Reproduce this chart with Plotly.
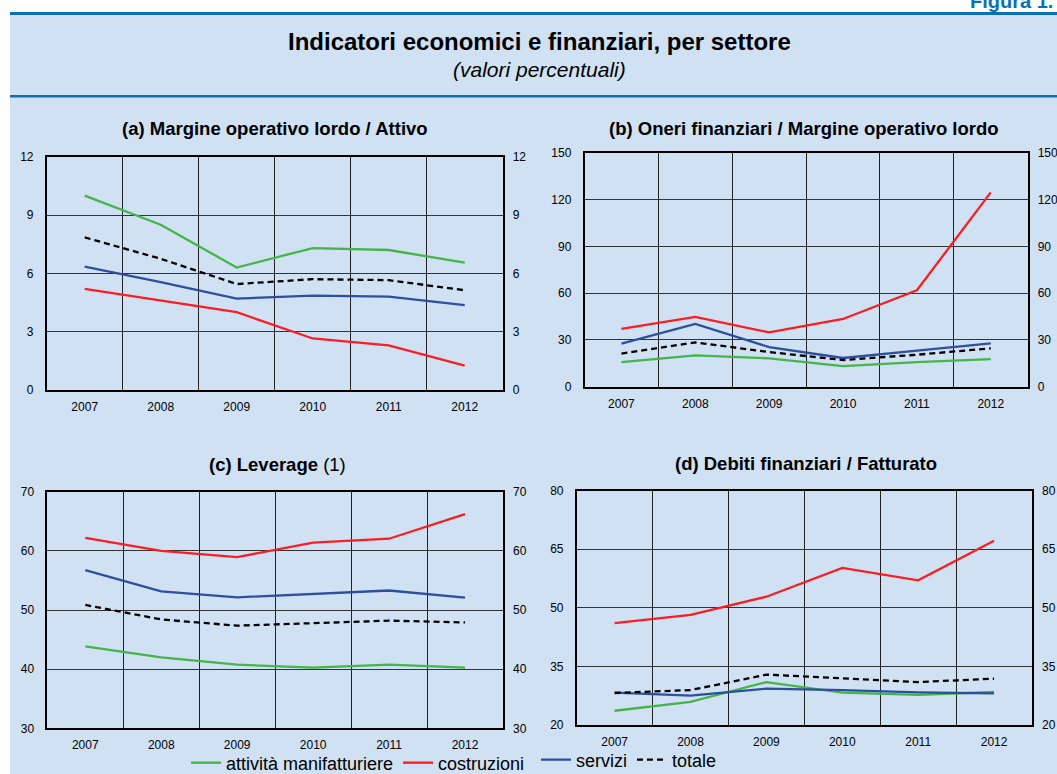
import plotly.graph_objects as go

W, H = 1057, 774

years = ["2007", "2008", "2009", "2010", "2011", "2012"]

series_names = ["attività manifatturiere", "costruzioni", "servizi", "totale"]

# (a) Margine operativo lordo / Attivo
a_manif = [10.0, 8.5, 6.3, 7.3, 7.2, 6.55]
a_costr = [5.2, 4.6, 4.0, 2.65, 2.3, 1.25]
a_serv = [6.35, 5.55, 4.7, 4.85, 4.8, 4.37]
a_tot = [7.85, 6.75, 5.45, 5.7, 5.65, 5.13]

# (b) Oneri finanziari / Margine operativo lordo
b_manif = [15.8, 20.1, 18.2, 13.2, 15.8, 17.7]
b_costr = [37.0, 44.7, 34.8, 43.4, 61.8, 124.6]
b_serv = [27.6, 40.2, 25.4, 18.4, 23.1, 27.8]
b_tot = [21.2, 28.4, 22.2, 17.1, 20.5, 24.6]

# (c) Leverage
c_manif = [43.85, 42.0, 40.75, 40.25, 40.75, 40.25]
c_costr = [62.2, 60.0, 58.95, 61.4, 62.05, 66.2]
c_serv = [56.75, 53.15, 52.15, 52.75, 53.3, 52.1]
c_tot = [50.85, 48.4, 47.35, 47.75, 48.2, 47.9]

# (d) Debiti finanziari / Fatturato
d_manif = [23.65, 25.9, 31.0, 28.3, 27.7, 28.45]
d_costr = [46.1, 48.2, 52.85, 60.25, 57.05, 67.2]
d_serv = [28.3, 27.5, 29.3, 28.95, 28.35, 28.1]
d_tot = [28.2, 28.95, 32.9, 32.0, 31.0, 31.85]

titles = ["<b>(a) Margine operativo lordo / Attivo</b>",
          "<b>(b) Oneri finanziari / Margine operativo lordo</b>",
          "<b>(c) Leverage</b> (1)",
          "<b>(d) Debiti finanziari / Fatturato</b>"]
y_ranges = [(0, 12, 3), (0, 150, 30), (30, 70, 10), (20, 80, 15)]

FONT = "Liberation Sans, Arial, sans-serif"
GREEN, RED, BLUE, BLACK = "#45b549", "#f91e23", "#2d4f9e", "#000000"
LIGHT = "#cfe1f2"
DARK_BLUE = "#0b70b4"

# pixel boxes of plot areas: (left, right, top, bottom)
boxes = [(46.7, 502.7, 156.7, 390.0),
         (584.5, 1027.7, 152.7, 386.7),
         (47.3, 503.0, 491.7, 728.3),
         (576.7, 1032.0, 490.7, 725.0)]
title_pos = [(274.5, 128), (804, 128), (277, 464), (806, 463)]

def px(x):
    return x / W

def py(y):
    return 1 - y / H

fig = go.Figure()

panels = [
    (a_manif, a_costr, a_serv, a_tot),
    (b_manif, b_costr, b_serv, b_tot),
    (c_manif, c_costr, c_serv, c_tot),
    (d_manif, d_costr, d_serv, d_tot),
]
styles = [dict(color=GREEN, width=2.3),
          dict(color=RED, width=2.3),
          dict(color=BLUE, width=2.3),
          dict(color=BLACK, width=2.3, dash="6px,4px")]

layout = {}
for i, (data, box, yr) in enumerate(zip(panels, boxes, y_ranges)):
    xn = "" if i == 0 else str(i + 1)
    yl = "" if i == 0 else str(2 * i + 1)
    yr_name = str(2 * i + 2)
    for k, (vals, name, st) in enumerate(zip(data, series_names, styles)):
        show = (i == 2 and k < 2) or (i == 3 and k >= 2)
        # the "totale" series is drawn against the right-hand axis (same scale)
        yax = "y" + (yr_name if k == 3 else yl)
        fig.add_trace(go.Scatter(
            x=years, y=vals, mode="lines", name=name, line=st,
            xaxis="x" + xn, yaxis=yax,
            legendgroup=name, showlegend=show,
            legend="legend" if k < 2 else "legend2",
            hovertemplate="%{x}: %{y}<extra>" + name + "</extra>"))
    left, right, top, bottom = box
    lo, hi, dt = yr
    layout["xaxis" + xn] = dict(
        domain=[px(left), px(right)], anchor="y" + yl, type="category",
        tickson="boundaries", showgrid=True, gridcolor="#222222", gridwidth=1,
        showline=True, linecolor="black", linewidth=1.5, mirror=True,
        ticks="", ticklabelstandoff=5, automargin=False,
        tickfont=dict(size=12, color="black", family=FONT),
        range=[-0.5, 5.5], fixedrange=True)
    common_y = dict(range=[lo, hi], tick0=lo, dtick=dt, ticks="",
                    tickfont=dict(size=12, color="black", family=FONT),
                    ticklabelstandoff=9, fixedrange=True, zeroline=False,
                    automargin=False)
    layout["yaxis" + yl] = dict(
        domain=[py(bottom), py(top)], anchor="x" + xn, side="left",
        showgrid=True, gridcolor="#333333", gridwidth=1,
        showline=True, linecolor="black", linewidth=1.5, mirror=True,
        **common_y)
    layout["yaxis" + yr_name] = dict(
        overlaying="y" + yl, anchor="x" + xn, side="right",
        showgrid=False, showline=False, **common_y)

annotations = []
for t, (cx, cy) in zip(titles, title_pos):
    annotations.append(dict(text=t, x=px(cx), y=py(cy), xref="paper", yref="paper",
                            xanchor="center", yanchor="middle", showarrow=False,
                            font=dict(size=18.5, color="black", family=FONT)))
annotations.append(dict(text="<b>Indicatori economici e finanziari, per settore</b>",
                        x=px(539), y=py(42), xref="paper", yref="paper",
                        xanchor="center", yanchor="middle", showarrow=False,
                        font=dict(size=24, color="black", family=FONT)))
annotations.append(dict(text="<i>(valori percentuali)</i>",
                        x=px(539), y=py(70), xref="paper", yref="paper",
                        xanchor="center", yanchor="middle", showarrow=False,
                        font=dict(size=21, color="black", family=FONT)))
annotations.append(dict(text="<b>Figura 1.</b>",
                        x=px(968), y=py(1), xref="paper", yref="paper",
                        xanchor="left", yanchor="middle", showarrow=False,
                        font=dict(size=20, color=DARK_BLUE, family=FONT)))

shapes = [
    dict(type="rect", xref="paper", yref="paper", x0=px(10), x1=1.0, y0=0, y1=py(12),
         fillcolor=LIGHT, line=dict(width=0), layer="below"),
    dict(type="rect", xref="paper", yref="paper", x0=px(10), x1=1.0, y0=py(15), y1=py(12),
         fillcolor=DARK_BLUE, line=dict(width=0), layer="below"),
    dict(type="rect", xref="paper", yref="paper", x0=px(10), x1=1.0, y0=py(97.5), y1=py(95),
         fillcolor=DARK_BLUE, line=dict(width=0), layer="below"),
]

fig.update_layout(
    width=W, height=H, autosize=False,
    margin=dict(l=0, r=0, t=0, b=0, pad=0, autoexpand=False),
    paper_bgcolor="white", plot_bgcolor="white",
    font=dict(family=FONT, color="black"),
    annotations=annotations, shapes=shapes,
    legend=dict(orientation="h", x=px(186), y=py(763), xanchor="left", yanchor="middle",
                bgcolor="rgba(0,0,0,0)", font=dict(size=18, family=FONT, color="black"),
                itemwidth=30, tracegroupgap=0, traceorder="normal"),
    legend2=dict(orientation="h", x=px(536), y=py(760), xanchor="left", yanchor="middle",
                 bgcolor="rgba(0,0,0,0)", font=dict(size=18, family=FONT, color="black"),
                 itemwidth=30, tracegroupgap=0, traceorder="normal"),
    **layout)

fig.write_html("out.html", config={"displayModeBar": False},
               post_script="document.body.style.margin='0';")
